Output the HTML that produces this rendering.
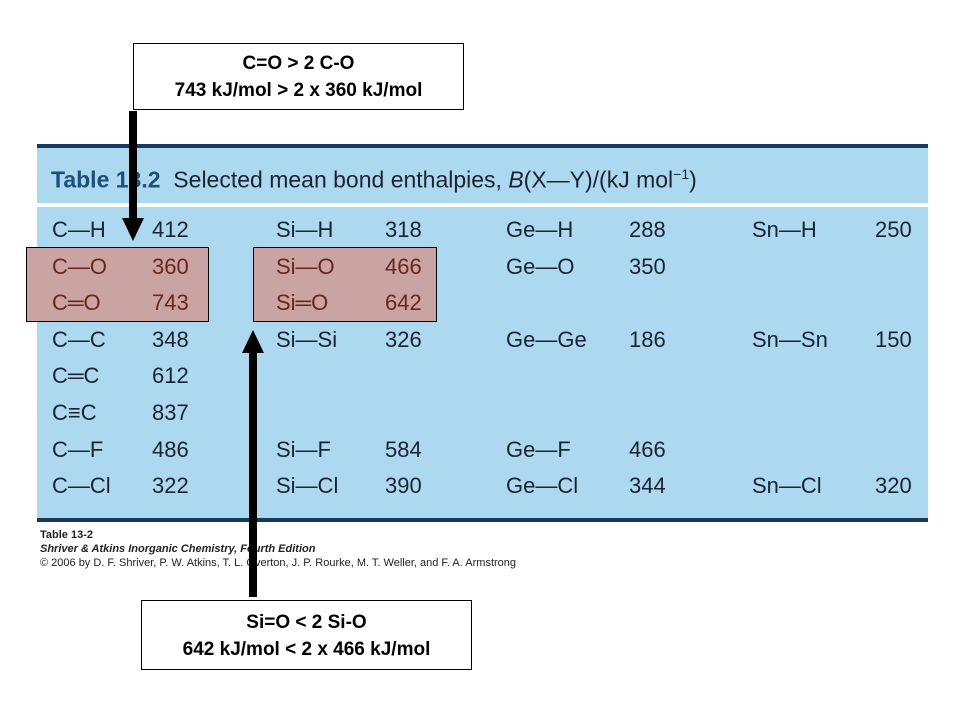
<!DOCTYPE html>
<html><head><meta charset="utf-8"><style>
body{margin:0;width:960px;height:720px;background:#fff;position:relative;overflow:hidden;font-family:"Liberation Sans",sans-serif}
.a{position:absolute}
.c{position:absolute;font-size:22px;color:#1b2330;line-height:26px;white-space:nowrap}
.r{color:#6a2718}
.box{position:absolute;border:1px solid #000;background:#fff;text-align:center;font-weight:bold;font-size:19px;line-height:27px;color:#000}
</style></head><body>
<div class="a" style="left:37px;top:144px;width:891px;height:4px;background:#163a5e"></div>
<div class="a" style="left:37px;top:148px;width:891px;height:55px;background:#acd9ef"></div>
<div class="c" style="left:51px;top:161px;font-size:23px"><b style="color:#1d4f7c">Table 13.2</b>&nbsp; Selected mean bond enthalpies, <i>B</i>(X—Y)/(kJ mol<sup style="font-size:14px">−1</sup>)</div>
<div class="a" style="left:37px;top:207px;width:891px;height:311px;background:#acd9ef"></div>
<div class="a" style="left:37px;top:518px;width:891px;height:4px;background:#163a5e"></div>
<div class="a" style="left:26px;top:247px;width:11px;height:74px;background:#f3a892"></div>
<div class="a" style="left:26px;top:247px;width:181px;height:73px;background:#c9a4a3;border:1px solid #000"></div>
<div class="a" style="left:253px;top:247px;width:182px;height:73px;background:#c9a4a3;border:1px solid #000"></div>

<div id="rows"></div>

<div class="a" style="left:40px;top:528px;font-size:11px;line-height:14px;color:#222"><b>Table 13-2</b><br><b><i>Shriver &amp; Atkins Inorganic Chemistry, Fourth Edition</i></b><br>© 2006 by D. F. Shriver, P. W. Atkins, T. L. Overton, J. P. Rourke, M. T. Weller, and F. A. Armstrong</div>

<div class="box" style="left:133px;top:43px;width:331px;height:67px;padding-top:6px;box-sizing:border-box">C=O &gt; 2 C-O<br>743 kJ/mol &gt; 2 x 360 kJ/mol</div>
<div class="box" style="left:141px;top:600px;width:331px;height:70px;padding-top:8px;box-sizing:border-box">Si=O &lt; 2 Si-O<br>642 kJ/mol &lt; 2 x 466 kJ/mol</div>

<svg class="a" style="left:0;top:0" width="960" height="720">
<rect x="129" y="111" width="8" height="110" fill="#000"/>
<polygon points="122,218 144,218 133,241" fill="#000"/>
<rect x="249" y="350" width="8" height="247" fill="#000"/>
<polygon points="242,353 264,353 253,330" fill="#000"/>
</svg>
<script>
const rows=[
["C—H","412","Si—H","318","Ge—H","288","Sn—H","250"],
["C—O","360","Si—O","466","Ge—O","350","",""],
["C═O","743","Si═O","642","","","",""],
["C—C","348","Si—Si","326","Ge—Ge","186","Sn—Sn","150"],
["C═C","612","","","","","",""],
["C≡C","837","","","","","",""],
["C—F","486","Si—F","584","Ge—F","466","",""],
["C—Cl","322","Si—Cl","390","Ge—Cl","344","Sn—Cl","320"]];
const xs=[52,152,276,385,506,629,752,875];
const host=document.getElementById('rows');
rows.forEach((r,i)=>{r.forEach((t,j)=>{if(!t)return;
const d=document.createElement('div');
d.className='c'+((i==1||i==2)&&j<4?' r':'');
d.style.left=xs[j]+'px';d.style.top=(217+i*36.6)+'px';d.textContent=t;


host.appendChild(d);});});
</script>
</body></html>
